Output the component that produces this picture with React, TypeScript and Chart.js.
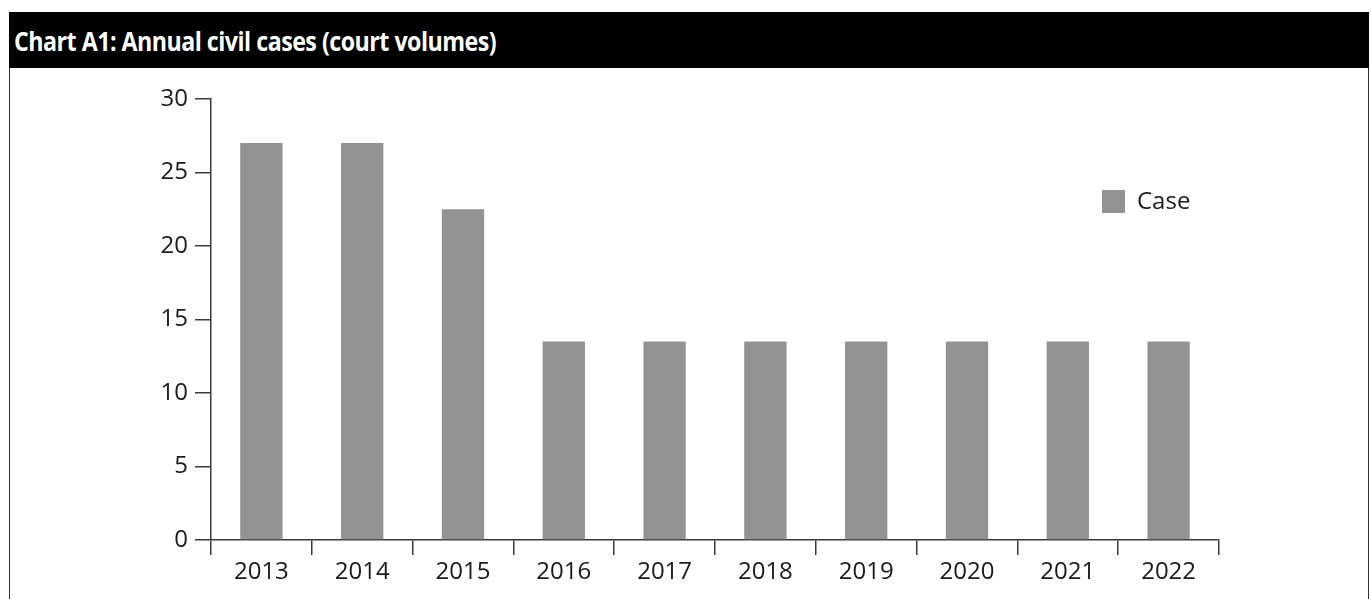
import React, { useEffect, useRef } from "react";
import { Chart, registerables } from "chart.js";

Chart.register(...registerables);

const TITLE = "Chart A1: Annual civil cases (court volumes)";
const CATEGORIES = ["2013", "2014", "2015", "2016", "2017", "2018", "2019", "2020", "2021", "2022"];
const SERIES_LABEL = "Case";
const SERIES_VALUES = [27, 27, 22.5, 13.5, 13.5, 13.5, 13.5, 13.5, 13.5, 13.5];
const Y_MIN = 0;
const Y_MAX = 30;
const Y_STEP = 5;

const BAR_COLOR = "#939393";
const AXIS_COLOR = "#3a3a3a";
const TEXT_COLOR = "#1a1a1a";
const FONT = "'Open Sans', 'DejaVu Sans', sans-serif";

const legendPlugin = {
  id: "customLegend",
  afterDraw(chart: any) {
    const { ctx, chartArea } = chart;
    const ds = chart.data.datasets[0];
    const x = chartArea.right - 117;
    const y = chartArea.top + 91;
    ctx.save();
    ctx.fillStyle = ds.backgroundColor;
    ctx.fillRect(x, y, 23, 23);
    ctx.fillStyle = TEXT_COLOR;
    ctx.font = `24px ${FONT}`;
    ctx.textBaseline = "middle";
    ctx.textAlign = "left";
    ctx.fillText(ds.label, x + 35, y + 12);
    ctx.restore();
  },
};

export default function App() {
  const canvasRef = useRef<HTMLCanvasElement | null>(null);

  useEffect(() => {
    if (!canvasRef.current) return;
    const chart = new Chart(canvasRef.current, {
      type: "bar",
      data: {
        labels: CATEGORIES,
        datasets: [
          {
            label: SERIES_LABEL,
            data: SERIES_VALUES,
            backgroundColor: BAR_COLOR,
            borderWidth: 0,
            barPercentage: 0.42,
            categoryPercentage: 1,
          },
        ],
      },
      options: {
        animation: false,
        responsive: true,
        maintainAspectRatio: false,
        layout: { padding: { left: 0, top: 99, right: 152, bottom: 0 } },
        plugins: {
          legend: { display: false },
          tooltip: { enabled: false },
          title: { display: false },
        },
        scales: {
          x: {
            offset: true,
            border: { display: true, color: AXIS_COLOR, width: 1.5 },
            grid: {
              offset: true,
              drawOnChartArea: false,
              drawTicks: true,
              tickLength: 15,
              color: AXIS_COLOR,
              lineWidth: 1.5,
            },
            ticks: {
              color: TEXT_COLOR,
              font: { family: FONT, size: 24 },
              padding: 3,
              maxRotation: 0,
            },
            afterFit(scale: any) {
              scale.height = 59;
            },
          },
          y: {
            min: Y_MIN,
            max: Y_MAX,
            border: { display: true, color: AXIS_COLOR, width: 1.5 },
            grid: {
              drawOnChartArea: false,
              drawTicks: true,
              tickLength: 16,
              color: AXIS_COLOR,
              lineWidth: 1.5,
            },
            ticks: {
              stepSize: Y_STEP,
              color: TEXT_COLOR,
              font: { family: FONT, size: 24 },
              padding: 7,
            },
            afterFit(scale: any) {
              scale.width = 211;
            },
          },
        },
      },
      plugins: [legendPlugin],
    });
    return () => chart.destroy();
  }, []);

  return (
    <div style={{ position: "absolute", left: 0, top: 0, width: 1371, height: 599, overflow: "hidden", background: "#fff" }}>
      <div
        style={{
          position: "absolute",
          left: 9,
          top: 12,
          width: 1360,
          height: 56,
          background: "#000",
          boxSizing: "border-box",
          paddingLeft: 5,
        }}
      >
        <div
          style={{
            color: "#fff",
            fontFamily: FONT,
            fontWeight: 700,
            fontSize: 27,
            lineHeight: "58px",
            whiteSpace: "nowrap",
            letterSpacing: -0.6,
            transform: "scaleX(0.86)",
            transformOrigin: "left center",
          }}
        >
          {TITLE}
        </div>
      </div>
      <div
        style={{
          position: "absolute",
          left: 9,
          top: 68,
          width: 1360,
          height: 600,
          boxSizing: "border-box",
          borderLeft: "1.5px solid #333",
          borderRight: "1.5px solid #333",
        }}
      />
      <div style={{ position: "absolute", left: 0, top: 0, width: 1371, height: 599 }}>
        <canvas ref={canvasRef} />
      </div>
    </div>
  );
}
